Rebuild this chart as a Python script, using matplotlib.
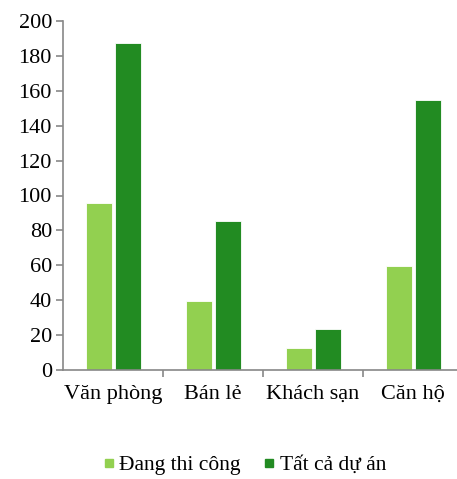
import numpy as np
import matplotlib.pyplot as plt
from matplotlib.lines import Line2D

# Data
categories = ["Văn phòng", "Bán lẻ", "Khách sạn", "Căn hộ"]
dang_thi_cong = [95.5, 39.5, 12.5, 59.5]
tat_ca_du_an = [187.5, 85.5, 23.5, 155]
series_names = ["Đang thi công", "Tất cả dự án"]
colors = ["#92D050", "#228B22"]

plt.rcParams['font.family'] = ['Liberation Serif', 'DejaVu Serif']
fs = 16

fig = plt.figure(figsize=(4.57, 4.79), dpi=100)
ax = fig.add_axes([63 / 457, 109 / 479, 400 / 457, 349 / 479])

x = np.arange(len(categories))
w = 0.26
gap = 0.03
ax.bar(x - (w + gap) / 2, dang_thi_cong, width=w, color=colors[0],
       edgecolor="white", linewidth=0.6)
ax.bar(x + (w + gap) / 2, tat_ca_du_an, width=w, color=colors[1],
       edgecolor="white", linewidth=0.6)

ax.set_xlim(-0.5, len(categories) - 0.5)
ax.set_ylim(0, 200)
ax.set_yticks(range(0, 201, 20))

ax.set_xticks(x)
ax.set_xticklabels(categories)
ax.set_xticks(x[:-1] + 0.5, minor=True)
ax.tick_params(axis="x", which="major", length=0, pad=11, labelsize=fs)
ax.tick_params(axis="x", which="minor", length=5, width=1.2, color="#888888")
ax.tick_params(axis="y", length=5, width=1.2, color="#888888", labelsize=fs, pad=3)

for s in ["top", "right"]:
    ax.spines[s].set_visible(False)
for s in ["left", "bottom"]:
    ax.spines[s].set_color("#888888")
    ax.spines[s].set_linewidth(1.2)

handles = [Line2D([], [], marker="s", linestyle="none", markersize=6,
                  markerfacecolor=c, markeredgecolor=c) for c in colors]
fig.legend(handles, series_names, loc="center", bbox_to_anchor=(242 / 457, 14 / 479),
           ncol=2, frameon=False, fontsize=15.5, handletextpad=0.0,
           handlelength=1.0, columnspacing=0.8)

fig.savefig("out.png", dpi=100)
